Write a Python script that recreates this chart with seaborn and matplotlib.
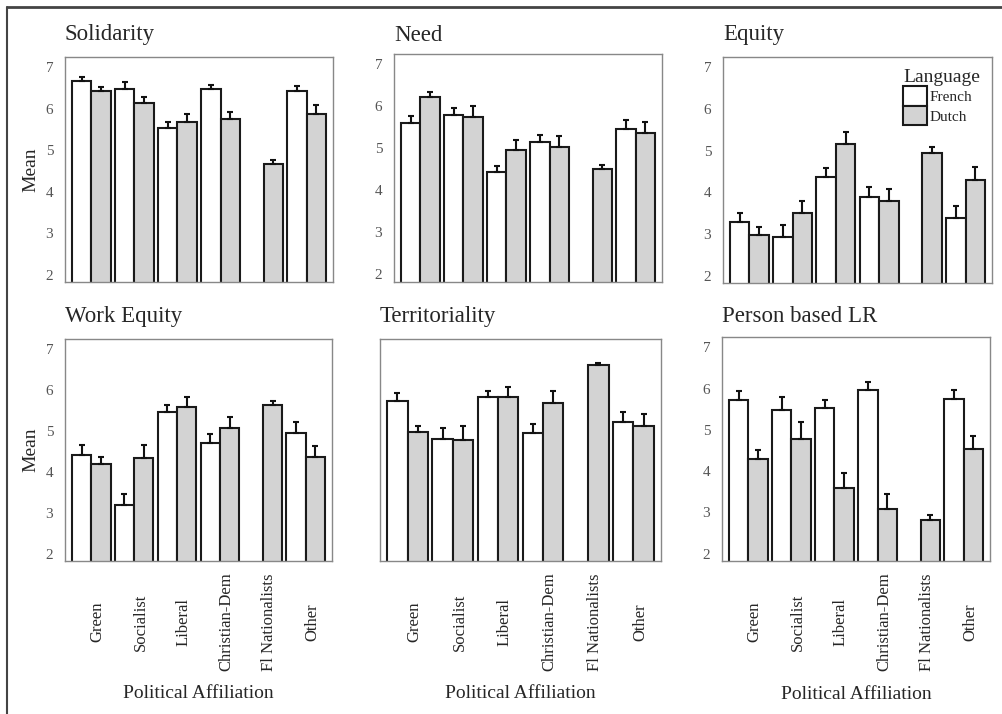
import numpy as np
import pandas as pd
import seaborn as sns
import matplotlib
matplotlib.use('Agg')
import matplotlib.pyplot as plt
from matplotlib.lines import Line2D

# Партии и языковые группы
parties = ['Green', 'Socialist', 'Liberal', 'Christian-Dem', 'Fl Nationalists', 'Other']
languages = ['French', 'Dutch']

# Средние и ошибки (вверх) по каждой шкале; NaN = нет франкоязычных Fl Nationalists
solidarity_fr = [6.68, 6.47, 5.53, 6.47, np.nan, 6.43]
solidarity_nl = [6.43, 6.15, 5.68, 5.75, 4.66, 5.88]
solidarity_fr_err = [0.08, 0.17, 0.15, 0.10, np.nan, 0.11]
solidarity_nl_err = [0.09, 0.14, 0.20, 0.17, 0.11, 0.22]

need_fr = [5.60, 5.79, 4.43, 5.15, np.nan, 5.47]
need_nl = [6.23, 5.76, 4.96, 5.04, 4.51, 5.37]
need_fr_err = [0.17, 0.17, 0.15, 0.18, np.nan, 0.22]
need_nl_err = [0.11, 0.25, 0.23, 0.25, 0.10, 0.27]

equity_fr = [3.29, 2.93, 4.36, 3.89, np.nan, 3.37]
equity_nl = [2.98, 3.49, 5.17, 3.80, 4.95, 4.29]
equity_fr_err = [0.22, 0.28, 0.22, 0.23, np.nan, 0.30]
equity_nl_err = [0.19, 0.29, 0.29, 0.29, 0.13, 0.31]

work_fr = [4.41, 3.18, 5.47, 4.71, np.nan, 4.94]
work_nl = [4.19, 4.33, 5.59, 5.08, 5.63, 4.37]
work_fr_err = [0.24, 0.27, 0.17, 0.21, np.nan, 0.27]
work_nl_err = [0.17, 0.32, 0.24, 0.26, 0.10, 0.27]

terr_fr = [5.73, 4.80, 5.82, 4.95, np.nan, 5.23]
terr_nl = [4.97, 4.79, 5.83, 5.69, 6.61, 5.13]
terr_fr_err = [0.20, 0.27, 0.15, 0.21, np.nan, 0.23]
terr_nl_err = [0.16, 0.32, 0.25, 0.29, 0.05, 0.28]

plr_fr = [5.72, 5.48, 5.52, 5.96, np.nan, 5.74]
plr_nl = [4.29, 4.77, 3.60, 3.09, 2.81, 4.54]
plr_fr_err = [0.22, 0.32, 0.20, 0.20, np.nan, 0.23]
plr_nl_err = [0.22, 0.42, 0.36, 0.35, 0.13, 0.31]

panels = [
    ('Solidarity', solidarity_fr, solidarity_nl, solidarity_fr_err, solidarity_nl_err),
    ('Need', need_fr, need_nl, need_fr_err, need_nl_err),
    ('Equity', equity_fr, equity_nl, equity_fr_err, equity_nl_err),
    ('Work Equity', work_fr, work_nl, work_fr_err, work_nl_err),
    ('Territoriality', terr_fr, terr_nl, terr_fr_err, terr_nl_err),
    ('Person based LR', plr_fr, plr_nl, plr_fr_err, plr_nl_err),
]

sns.set_style('white')
plt.rcParams['font.family'] = ['Liberation Serif', 'DejaVu Serif']

W, H = 1002, 714
fig = plt.figure(figsize=(W / 100, H / 100), dpi=100)

# положение осей в пикселях: (лево, верх, право, низ) и отступ заголовка
boxes = [
    (65, 57, 333, 282, 12),
    (394, 54, 662, 282, 9.5),
    (723, 57, 992, 283, 12),
    (65, 339, 332, 561, 12),
    (380, 339, 661, 561, 12),
    (722, 337, 990, 561, 11),
]

width = 0.9
for k, (title, fr, nl, fr_err, nl_err) in enumerate(panels):
    l, t, r, b, tpad = boxes[k]
    ax = fig.add_axes([l / W, 1 - b / H, (r - l) / W, (b - t) / H])

    df = pd.DataFrame({
        'party': parties * 2,
        'lang': ['French'] * 6 + ['Dutch'] * 6,
        'mean': list(fr) + list(nl),
    })
    sns.barplot(data=df, x='party', y='mean', hue='lang', order=parties,
                hue_order=languages, palette={'French': 'white', 'Dutch': '#d3d3d3'},
                edgecolor='#1a1a1a', linewidth=1.5, width=width, errorbar=None,
                legend=(title == 'Equity'), ax=ax)

    # ошибки только вверх
    pos = np.arange(len(parties))
    for vals, errs, off in [(fr, fr_err, -width / 4), (nl, nl_err, width / 4)]:
        errs = np.array(errs)
        ax.errorbar(pos + off, vals, yerr=[np.zeros_like(errs), errs], fmt='none',
                    ecolor='#111', elinewidth=1.5, capsize=2, capthick=1.5)

    ax.set_xlim(-0.61, 5.61)
    ax.set_ylim(1.82, 7.25)
    ax.set_yticks([2, 3, 4, 5, 6, 7])
    ax.tick_params(axis='both', length=0)
    ax.tick_params(axis='y', pad=8.5, labelsize=11, labelcolor='#555')
    for s in ax.spines.values():
        s.set_color('#888')
        s.set_linewidth(1)

    ax.set_title(title, loc='left', fontsize=16.5, pad=tpad)

    if k >= 3:
        ax.set_xticks(pos + 0.15)
        ax.set_xticklabels(parties, rotation=90, fontsize=12)
        for lab in ax.get_xticklabels():
            lab.set_va('center')
        ax.tick_params(axis='x', pad=44)
        ax.set_xlabel('Political Affiliation', fontsize=14)
        ax.xaxis.set_label_coords(0.5, -0.56)
    else:
        ax.set_xticks([])
        ax.set_xlabel('')

    if k in (0, 3):
        ax.set_ylabel('Mean', fontsize=14)
        ax.yaxis.set_label_coords(-0.095, 0.5)
    else:
        ax.set_ylabel('')
    if k == 4:
        ax.set_yticklabels([])

    if title == 'Equity':
        sns.move_legend(ax, 'upper right', title='Language', frameon=False,
                        fontsize=11, title_fontsize=14, handlelength=1.55,
                        handleheight=1.6, labelspacing=0.0, handletextpad=0.2,
                        borderpad=0.3, borderaxespad=0.5, alignment='left')

# рамка рисунка
fig.add_artist(Line2D([7 / W, 1], [1 - 7 / H, 1 - 7 / H], transform=fig.transFigure,
                      color='#444', lw=2))
fig.add_artist(Line2D([7 / W, 7 / W], [0, 1 - 7 / H], transform=fig.transFigure,
                      color='#444', lw=1.5))

fig.savefig('out.png', dpi=100)
